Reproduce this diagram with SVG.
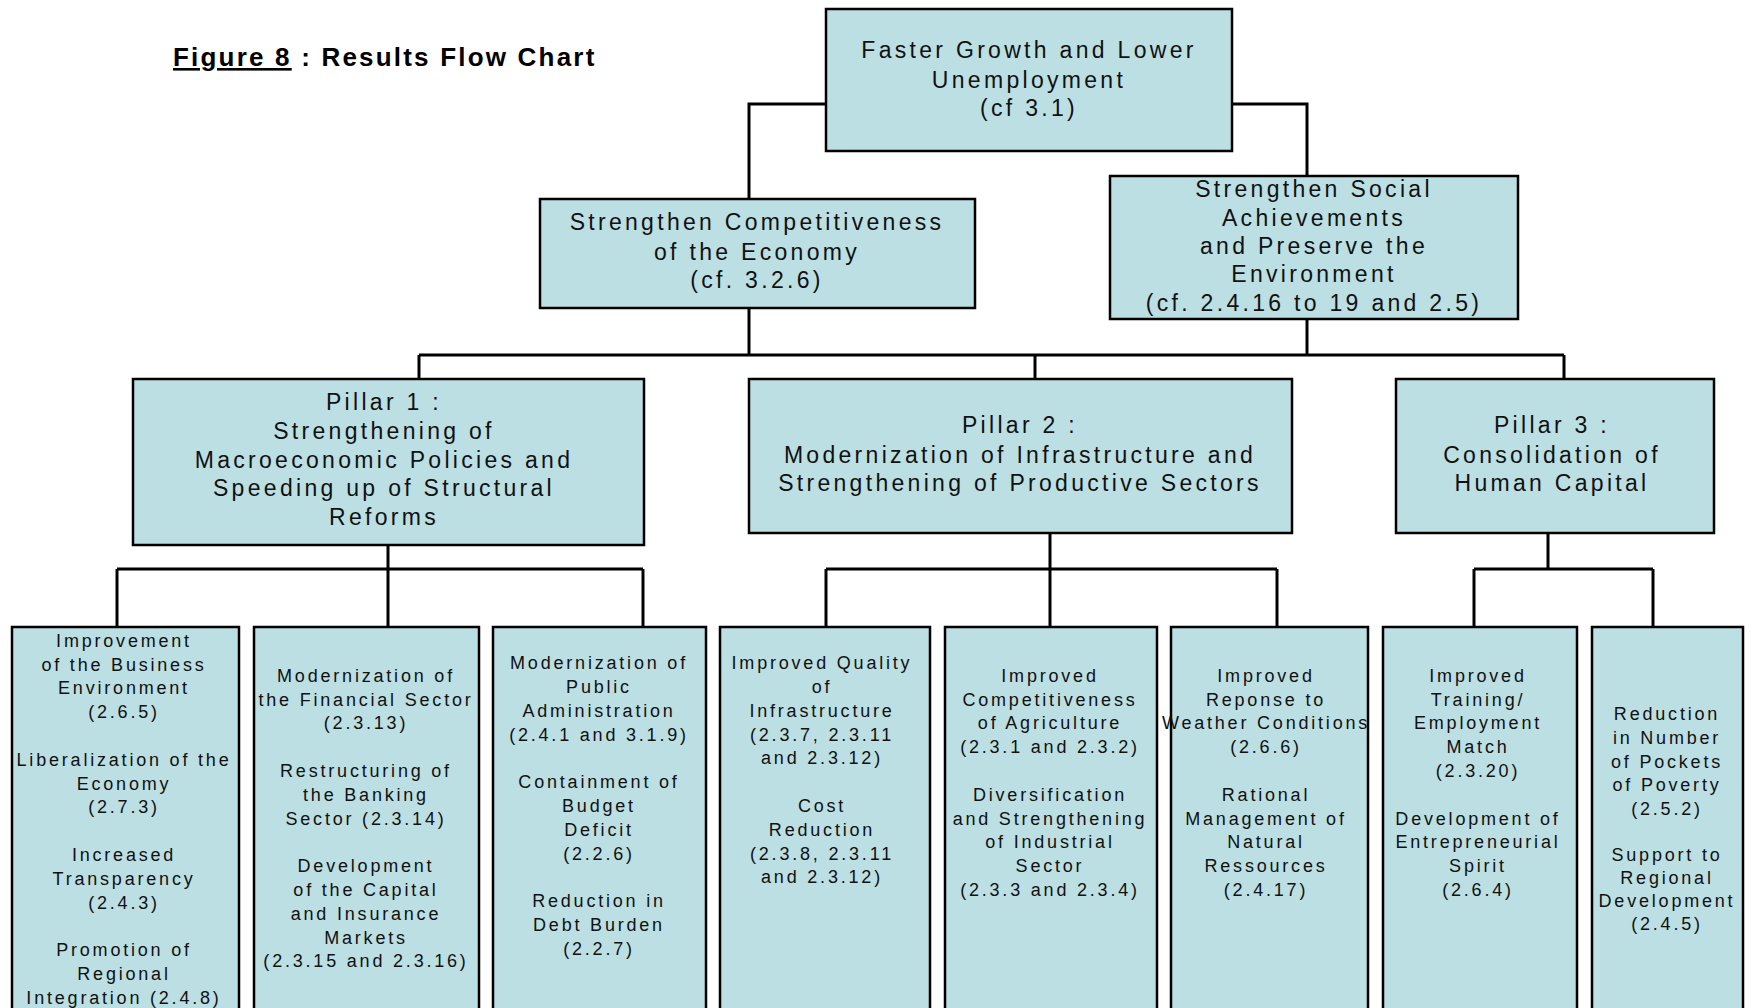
<svg xmlns="http://www.w3.org/2000/svg" width="1752" height="1008" viewBox="0 0 1752 1008">
<style>
.box{fill:#BBDFE3;stroke:#000;stroke-width:2.5}
.con{fill:none;stroke:#000;stroke-width:3}
.t1{font-family:"Liberation Sans",Arial,sans-serif;font-size:23px;letter-spacing:3.3px;text-anchor:middle;fill:#111}
.t2{font-family:"Liberation Sans",Arial,sans-serif;font-size:18px;letter-spacing:2.8px;text-anchor:middle;fill:#111}
.title{font-family:"Liberation Sans",Arial,sans-serif;font-size:26px;font-weight:bold;letter-spacing:2.2px;fill:#000}
</style>
<rect width="1752" height="1008" fill="#fff"/>
<text class="title" x="173" y="66"><tspan text-decoration="underline">Figure 8</tspan> : Results Flow Chart</text>

<g id="connectors">
<path class="con" d="M826,104 H749 V199"/>
<path class="con" d="M1232,104 H1307 V176"/>
<path class="con" d="M749,308 V355"/>
<path class="con" d="M1307,319 V355"/>
<path class="con" d="M419,355 H1564"/>
<path class="con" d="M419,355 V379 M1035,355 V379 M1564,355 V379"/>
<path class="con" d="M388,545 V569 M117,569 H643 M117,569 V627 M388,569 V627 M643,569 V627"/>
<path class="con" d="M1050,533 V569 M826,569 H1277 M826,569 V627 M1050,569 V627 M1277,569 V627"/>
<path class="con" d="M1548,533 V569 M1474,569 H1653 M1474,569 V627 M1653,569 V627"/>
</g>

<g id="goal">
<rect class="box" x="826" y="9" width="406" height="142"/>
<text class="t1" x="1029" y="58">Faster Growth and Lower</text>
<text class="t1" x="1029" y="88">Unemployment</text>
<text class="t1" x="1029" y="116">(cf  3.1)</text>
</g>

<g id="competitiveness">
<rect class="box" x="540" y="199" width="435" height="109"/>
<text class="t1" x="757" y="230">Strengthen Competitiveness</text>
<text class="t1" x="757" y="260">of the Economy</text>
<text class="t1" x="757" y="288">(cf. 3.2.6)</text>
</g>

<g id="social">
<rect class="box" x="1110" y="176" width="408" height="143"/>
<text class="t1" x="1314" y="197">Strengthen Social</text>
<text class="t1" x="1314" y="226">Achievements</text>
<text class="t1" x="1314" y="254">and Preserve the</text>
<text class="t1" x="1314" y="282">Environment</text>
<text class="t1" x="1314" y="311">(cf.  2.4.16 to 19 and 2.5)</text>
</g>

<g id="pillar1">
<rect class="box" x="133" y="379" width="511" height="166"/>
<text class="t1" x="384" y="410">Pillar 1 :</text>
<text class="t1" x="384" y="439">Strengthening of</text>
<text class="t1" x="384" y="468">Macroeconomic Policies and</text>
<text class="t1" x="384" y="496">Speeding up of Structural</text>
<text class="t1" x="384" y="525">Reforms</text>
</g>

<g id="pillar2">
<rect class="box" x="749" y="379" width="543" height="154"/>
<text class="t1" x="1020" y="433">Pillar 2 :</text>
<text class="t1" x="1020" y="463">Modernization of Infrastructure and</text>
<text class="t1" x="1020" y="491">Strengthening of Productive Sectors</text>
</g>

<g id="pillar3">
<rect class="box" x="1396" y="379" width="318" height="154"/>
<text class="t1" x="1552" y="433">Pillar 3 :</text>
<text class="t1" x="1552" y="463">Consolidation of</text>
<text class="t1" x="1552" y="491">Human Capital</text>
</g>

<g id="result1">
<rect class="box" x="12" y="627" width="227" height="395"/>
<text class="t2" x="124" y="647">Improvement</text>
<text class="t2" x="124" y="671">of the Business</text>
<text class="t2" x="124" y="694">Environment</text>
<text class="t2" x="124" y="718">(2.6.5)</text>
<text class="t2" x="124" y="766">Liberalization of the</text>
<text class="t2" x="124" y="790">Economy</text>
<text class="t2" x="124" y="813">(2.7.3)</text>
<text class="t2" x="124" y="861">Increased</text>
<text class="t2" x="124" y="885">Transparency</text>
<text class="t2" x="124" y="909">(2.4.3)</text>
<text class="t2" x="124" y="956">Promotion of</text>
<text class="t2" x="124" y="980">Regional</text>
<text class="t2" x="124" y="1004">Integration (2.4.8)</text>
</g>

<g id="result2">
<rect class="box" x="254" y="627" width="225" height="395"/>
<text class="t2" x="366" y="682">Modernization of</text>
<text class="t2" x="366" y="706">the Financial Sector</text>
<text class="t2" x="366" y="729">(2.3.13)</text>
<text class="t2" x="366" y="777">Restructuring of</text>
<text class="t2" x="366" y="801">the Banking</text>
<text class="t2" x="366" y="825">Sector (2.3.14)</text>
<text class="t2" x="366" y="872">Development</text>
<text class="t2" x="366" y="896">of the Capital</text>
<text class="t2" x="366" y="920">and Insurance</text>
<text class="t2" x="366" y="944">Markets</text>
<text class="t2" x="366" y="967">(2.3.15 and 2.3.16)</text>
</g>

<g id="result3">
<rect class="box" x="493" y="627" width="213" height="395"/>
<text class="t2" x="599" y="669">Modernization of</text>
<text class="t2" x="599" y="693">Public</text>
<text class="t2" x="599" y="717">Administration</text>
<text class="t2" x="599" y="741">(2.4.1 and 3.1.9)</text>
<text class="t2" x="599" y="788">Containment of</text>
<text class="t2" x="599" y="812">Budget</text>
<text class="t2" x="599" y="836">Deficit</text>
<text class="t2" x="599" y="860">(2.2.6)</text>
<text class="t2" x="599" y="907">Reduction in</text>
<text class="t2" x="599" y="931">Debt Burden</text>
<text class="t2" x="599" y="955">(2.2.7)</text>
</g>

<g id="result4">
<rect class="box" x="720" y="627" width="210" height="395"/>
<text class="t2" x="822" y="669">Improved Quality</text>
<text class="t2" x="822" y="693">of</text>
<text class="t2" x="822" y="717">Infrastructure</text>
<text class="t2" x="822" y="741">(2.3.7, 2.3.11</text>
<text class="t2" x="822" y="764">and 2.3.12)</text>
<text class="t2" x="822" y="812">Cost</text>
<text class="t2" x="822" y="836">Reduction</text>
<text class="t2" x="822" y="860">(2.3.8, 2.3.11</text>
<text class="t2" x="822" y="883">and 2.3.12)</text>
</g>

<g id="result5">
<rect class="box" x="945" y="627" width="212" height="395"/>
<text class="t2" x="1050" y="682">Improved</text>
<text class="t2" x="1050" y="706">Competitiveness</text>
<text class="t2" x="1050" y="729">of Agriculture</text>
<text class="t2" x="1050" y="753">(2.3.1 and 2.3.2)</text>
<text class="t2" x="1050" y="801">Diversification</text>
<text class="t2" x="1050" y="825">and Strengthening</text>
<text class="t2" x="1050" y="848">of Industrial</text>
<text class="t2" x="1050" y="872">Sector</text>
<text class="t2" x="1050" y="896">(2.3.3 and  2.3.4)</text>
</g>

<g id="result6">
<rect class="box" x="1171" y="627" width="197" height="395"/>
<text class="t2" x="1266" y="682">Improved</text>
<text class="t2" x="1266" y="706">Reponse to</text>
<text class="t2" x="1266" y="729">Weather Conditions</text>
<text class="t2" x="1266" y="753">(2.6.6)</text>
<text class="t2" x="1266" y="801">Rational</text>
<text class="t2" x="1266" y="825">Management of</text>
<text class="t2" x="1266" y="848">Natural</text>
<text class="t2" x="1266" y="872">Ressources</text>
<text class="t2" x="1266" y="896">(2.4.17)</text>
</g>

<g id="result7">
<rect class="box" x="1383" y="627" width="194" height="395"/>
<text class="t2" x="1478" y="682">Improved</text>
<text class="t2" x="1478" y="706">Training/</text>
<text class="t2" x="1478" y="729">Employment</text>
<text class="t2" x="1478" y="753">Match</text>
<text class="t2" x="1478" y="777">(2.3.20)</text>
<text class="t2" x="1478" y="825">Development of</text>
<text class="t2" x="1478" y="848">Entrepreneurial</text>
<text class="t2" x="1478" y="872">Spirit</text>
<text class="t2" x="1478" y="896">(2.6.4)</text>
</g>

<g id="result8">
<rect class="box" x="1592" y="627" width="151" height="395"/>
<text class="t2" x="1667" y="720">Reduction</text>
<text class="t2" x="1667" y="744">in Number</text>
<text class="t2" x="1667" y="768">of Pockets</text>
<text class="t2" x="1667" y="791">of Poverty</text>
<text class="t2" x="1667" y="815">(2.5.2)</text>
<text class="t2" x="1667" y="861">Support to</text>
<text class="t2" x="1667" y="884">Regional</text>
<text class="t2" x="1667" y="907">Development</text>
<text class="t2" x="1667" y="930">(2.4.5)</text>
</g>
</svg>
